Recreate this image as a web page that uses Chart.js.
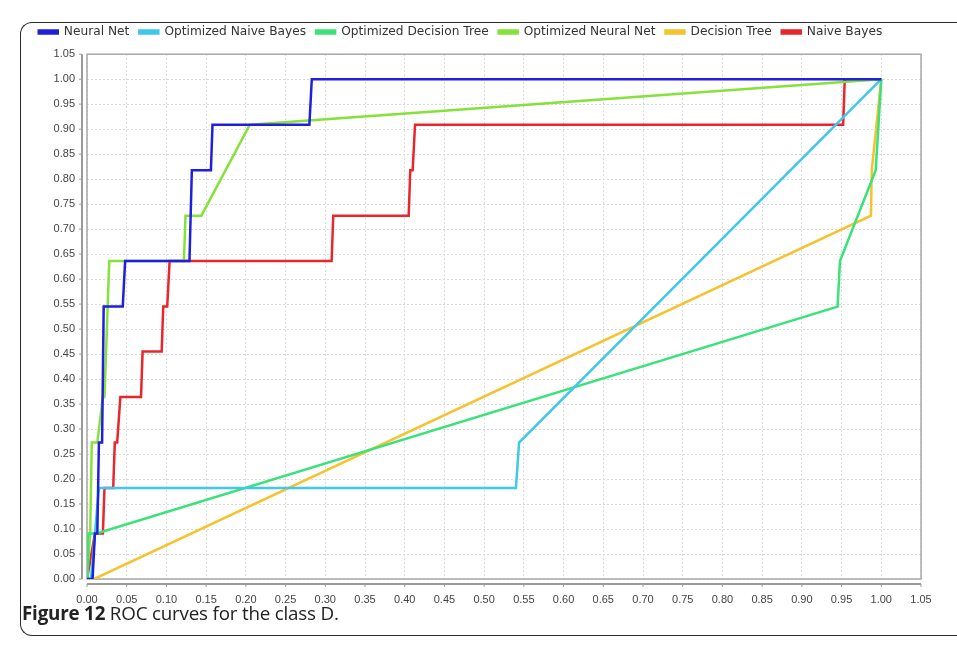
<!DOCTYPE html>
<html>
<head>
<meta charset="utf-8">
<script src="https://cdn.jsdelivr.net/npm/chart.js@4.4.0/dist/chart.umd.min.js"></script>
<style>
    html, body { margin: 0; padding: 0; background: #fff; }
    body { width: 957px; height: 649px; position: relative; overflow: hidden; }
    #frame {
        position: absolute; left: 20px; top: 22px; width: 960px; height: 614px;
        border: 1.5px solid #2a2a2a; border-right: none; border-radius: 12px 0 0 12px;
        box-sizing: border-box;
    }
    #wrap { position: absolute; left: 0; top: 0; width: 957px; height: 615px; }
    #caption {
        position: absolute; left: 22px; top: 600px;
        font-family: "Open Sans", sans-serif;
        font-size: 18.8px; color: #222; letter-spacing: -0.2px;
    }
</style>
</head>
<body>
<div id="frame"></div>
<div id="wrap"><canvas id="rocChart"></canvas></div>
<div id="caption"><b>Figure 12</b> ROC curves for the class D.</div>

<script>
// False positive rate (x) / true positive rate (y) per classifier
const seriesNames = ['Neural Net', 'Optimized Naive Bayes', 'Optimized Decision Tree',
                     'Optimized Neural Net', 'Decision Tree', 'Naive Bayes'];
const seriesColors = ['#1f1fdc', '#40c8ea', '#3ae27a', '#86e23a', '#f5c32f', '#e8262e'];

const nnX  = [0, 0.007, 0.010, 0.013, 0.015, 0.019, 0.021, 0.045, 0.048, 0.129, 0.132, 0.156, 0.158, 0.280, 0.283, 1.0];
const nnY  = [0, 0, 0.091, 0.091, 0.273, 0.273, 0.545, 0.545, 0.636, 0.636, 0.818, 0.818, 0.909, 0.909, 1.0, 1.0];

const onbX = [0, 0.005, 0.015, 0.540, 0.544, 1.0];
const onbY = [0, 0, 0.182, 0.182, 0.273, 1.0];

const odtX = [0, 0.001, 0.012, 0.945, 0.948, 0.993, 1.0];
const odtY = [0, 0.091, 0.091, 0.545, 0.636, 0.818, 1.0];

const onnX = [0, 0.004, 0.006, 0.013, 0.020, 0.022, 0.028, 0.122, 0.124, 0.144, 0.205, 1.0];
const onnY = [0, 0.091, 0.273, 0.273, 0.364, 0.364, 0.636, 0.636, 0.727, 0.727, 0.909, 1.0];

const dtX  = [0, 0.009, 0.987, 0.988, 1.0];
const dtY  = [0, 0, 0.727, 0.818, 1.0];

const nbX  = [0, 0.010, 0.020, 0.022, 0.033, 0.035, 0.038, 0.042, 0.068, 0.070, 0.094, 0.096, 0.101, 0.104,
              0.308, 0.310, 0.405, 0.407, 0.410, 0.413, 0.952, 0.954, 1.0];
const nbY  = [0, 0.091, 0.091, 0.182, 0.182, 0.273, 0.273, 0.364, 0.364, 0.455, 0.455, 0.545, 0.545, 0.636,
              0.636, 0.727, 0.727, 0.818, 0.818, 0.909, 0.909, 1.0, 1.0];

const axisMin = 0;
const axisMax = 1.05;
const axisStep = 0.05;

const xs = [nnX, onbX, odtX, onnX, dtX, nbX];
const ys = [nnY, onbY, odtY, onnY, dtY, nbY];

function toPoints(x, y) {
    return x.map((v, i) => ({ x: v, y: y[i] }));
}

// frame, offset axis lines and tick marks like the original plot
const plotFrame = {
    id: 'plotFrame',
    beforeDatasetsDraw(chart) {
        const { ctx, chartArea: a, scales } = chart;
        ctx.save();
        ctx.strokeStyle = '#a8a8a8';
        ctx.lineWidth = 1.5;
        ctx.strokeRect(a.left, a.top, a.right - a.left, a.bottom - a.top);

        ctx.strokeStyle = '#9a9a9a';
        ctx.lineWidth = 2;
        const ax = a.left - 5;
        const ay = a.bottom + 5;
        ctx.beginPath();
        ctx.moveTo(ax, a.top);
        ctx.lineTo(ax, a.bottom);
        ctx.moveTo(a.left, ay);
        ctx.lineTo(a.right, ay);
        ctx.stroke();

        ctx.lineWidth = 1;
        ctx.beginPath();
        scales.y.ticks.forEach(t => {
            const py = scales.y.getPixelForValue(t.value);
            ctx.moveTo(ax - 3, py);
            ctx.lineTo(ax, py);
        });
        scales.x.ticks.forEach(t => {
            const px = scales.x.getPixelForValue(t.value);
            ctx.moveTo(px, ay);
            ctx.lineTo(px, ay + 3);
        });
        ctx.stroke();
        ctx.restore();
    }
};

const tickFont = { family: 'Liberation Sans', size: 11 };

const ctx = document.getElementById('rocChart');
new Chart(ctx, {
    type: 'scatter',
    data: {
        datasets: seriesNames.map((name, i) => ({
            label: name,
            data: toPoints(xs[i], ys[i]),
            showLine: true,
            borderColor: seriesColors[i],
            backgroundColor: seriesColors[i],
            borderWidth: 2.5,
            pointRadius: 0,
            pointHoverRadius: 0,
            tension: 0
        }))
    },
    options: {
        responsive: true,
        maintainAspectRatio: false,
        animation: false,
        layout: { padding: { left: 0, right: 36, top: 16, bottom: 0 } },
        plugins: {
            legend: {
                position: 'top',
                labels: {
                    boxWidth: 19,
                    boxHeight: 3,
                    padding: 10,
                    color: '#333',
                    font: { family: 'DejaVu Sans', size: 12.2 }
                }
            },
            tooltip: { enabled: false }
        },
        scales: {
            x: {
                type: 'linear',
                min: axisMin,
                max: axisMax,
                afterFit: s => { s.height = 36; },
                ticks: {
                    stepSize: axisStep,
                    autoSkip: false,
                    maxRotation: 0,
                    padding: 8,
                    color: '#444',
                    font: tickFont,
                    callback: v => v.toFixed(2)
                },
                grid: { color: '#dadada', tickColor: 'transparent', tickLength: 6 },
                border: { display: false, dash: [2, 2] }
            },
            y: {
                type: 'linear',
                min: axisMin,
                max: axisMax,
                afterFit: s => { s.width = 87; },
                ticks: {
                    stepSize: axisStep,
                    autoSkip: false,
                    padding: 6,
                    color: '#444',
                    font: tickFont,
                    callback: v => v.toFixed(2)
                },
                grid: { color: '#dadada', tickColor: 'transparent', tickLength: 6 },
                border: { display: false, dash: [2, 2] }
            },
            gap: {
                type: 'linear',
                position: 'top',
                display: true,
                afterFit: s => { s.height = 6; },
                ticks: { display: false },
                grid: { display: false },
                border: { display: false }
            }
        }
    },
    plugins: [plotFrame]
});
</script>
</body>
</html>
